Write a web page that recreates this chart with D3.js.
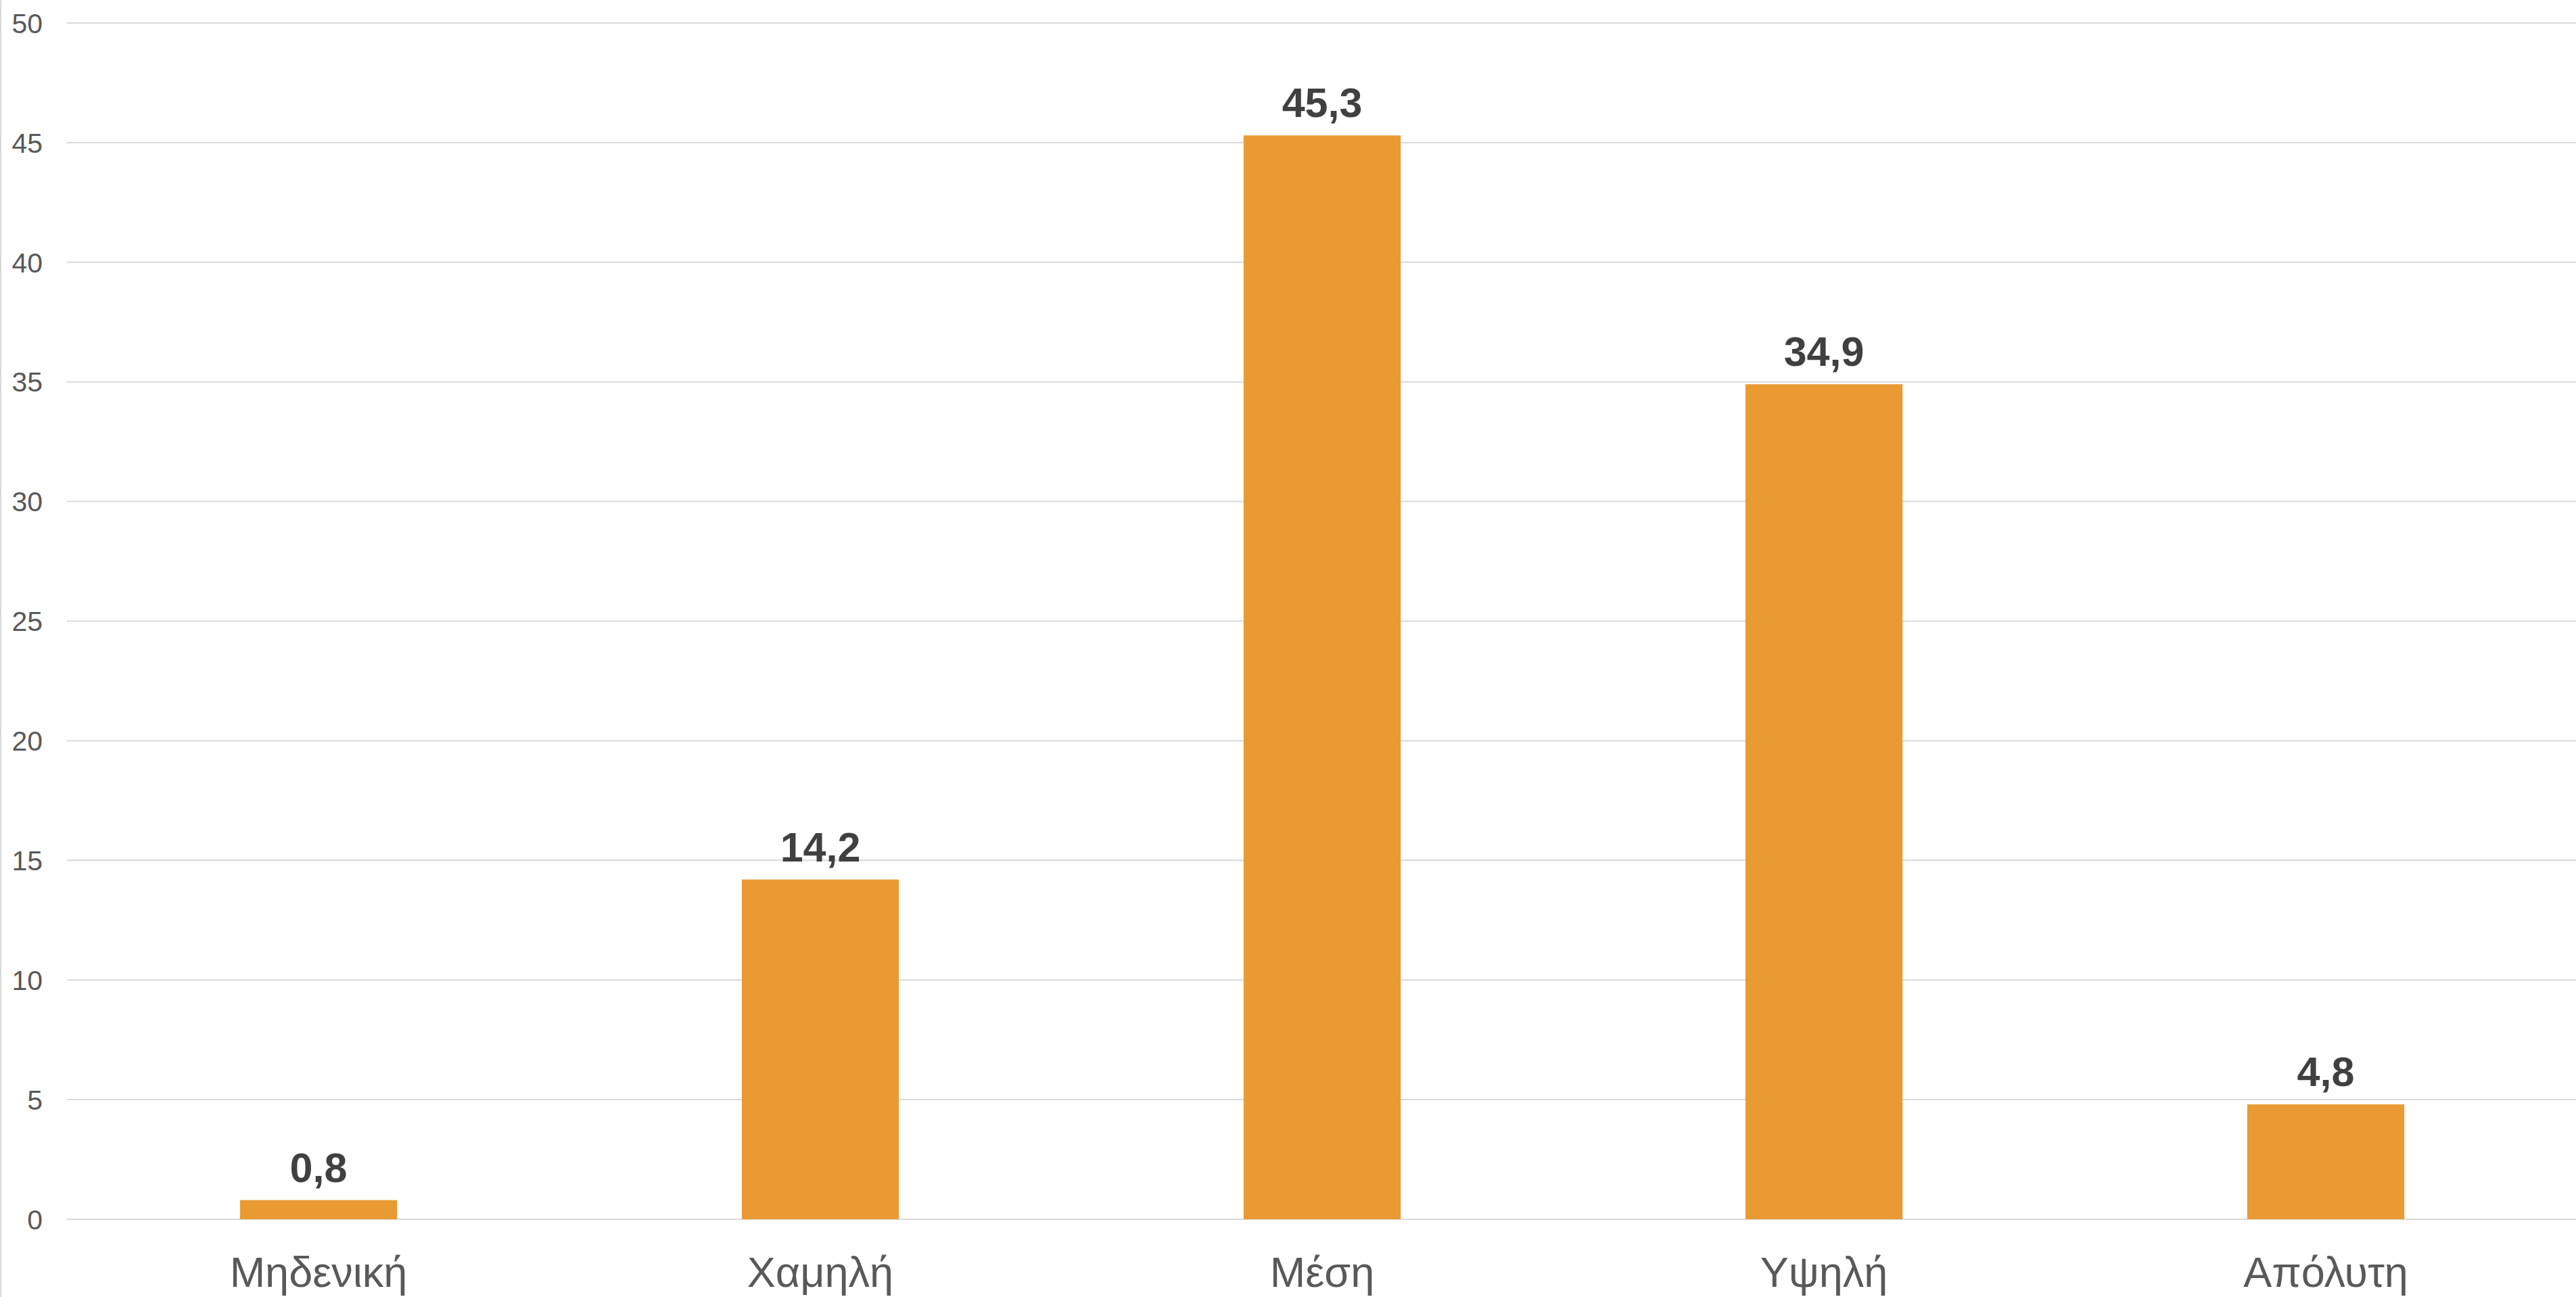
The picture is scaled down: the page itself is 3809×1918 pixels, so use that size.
<!DOCTYPE html>
<html>
<head>
<meta charset="utf-8">
<script src="https://cdn.jsdelivr.net/npm/d3@7"></script>
<style>
  html, body { margin: 0; padding: 0; background: #ffffff; }
  svg { display: block; }
</style>
</head>
<body>
<script>
const categories = ["Μηδενική", "Χαμηλή", "Μέση", "Υψηλή", "Απόλυτη"];
const values = [0.8, 14.2, 45.3, 34.9, 4.8];
const valueLabels = ["0,8", "14,2", "45,3", "34,9", "4,8"];
const yTicks = [0, 5, 10, 15, 20, 25, 30, 35, 40, 45, 50];

const W = 3809, H = 1918;
const font = "'Liberation Sans', Arial, sans-serif";

const svg = d3.select("body").append("svg")
  .attr("width", W).attr("height", H);

const x = d3.scaleBand()
  .domain(categories)
  .range([100, 3810])
  .paddingInner(0.687)
  .paddingOuter(0.3435);

const y = d3.scaleLinear()
  .domain([0, 50])
  .range([1803, 34]);

// left border line
svg.append("line")
  .attr("x1", 1).attr("x2", 1).attr("y1", 0).attr("y2", H)
  .attr("stroke", "#d9d9d9").attr("stroke-width", 2);

// gridlines
svg.append("g").selectAll("line")
  .data(yTicks).join("line")
  .attr("x1", 99).attr("x2", W)
  .attr("y1", d => y(d)).attr("y2", d => y(d))
  .attr("stroke", "#d9d9d9").attr("stroke-width", 2);

// y tick labels
svg.append("g").selectAll("text")
  .data(yTicks).join("text")
  .attr("x", 63).attr("y", d => y(d))
  .attr("dy", "0.36em")
  .attr("text-anchor", "end")
  .attr("font-family", font)
  .attr("font-size", 41)
  .attr("fill", "#595959")
  .text(d => d);

// bars
const data = categories.map((c, i) => ({ c, v: values[i], l: valueLabels[i] }));
svg.append("g").selectAll("rect")
  .data(data).join("rect")
  .attr("x", d => x(d.c))
  .attr("width", x.bandwidth())
  .attr("y", d => y(d.v))
  .attr("height", d => y(0) - y(d.v))
  .attr("fill", "#EA9A32");

// value labels
svg.append("g").selectAll("text")
  .data(data).join("text")
  .attr("x", d => x(d.c) + x.bandwidth() / 2)
  .attr("y", d => y(d.v) - 27)
  .attr("text-anchor", "middle")
  .attr("font-family", font)
  .attr("font-size", 61)
  .attr("font-weight", "bold")
  .attr("fill", "#404040")
  .text(d => d.l);

// category labels
svg.append("g").selectAll("text")
  .data(categories).join("text")
  .attr("x", d => x(d) + x.bandwidth() / 2)
  .attr("y", 1903)
  .attr("text-anchor", "middle")
  .attr("font-family", font)
  .attr("font-size", 63)
  .attr("fill", "#595959")
  .text(d => d);
</script>
</body>
</html>
